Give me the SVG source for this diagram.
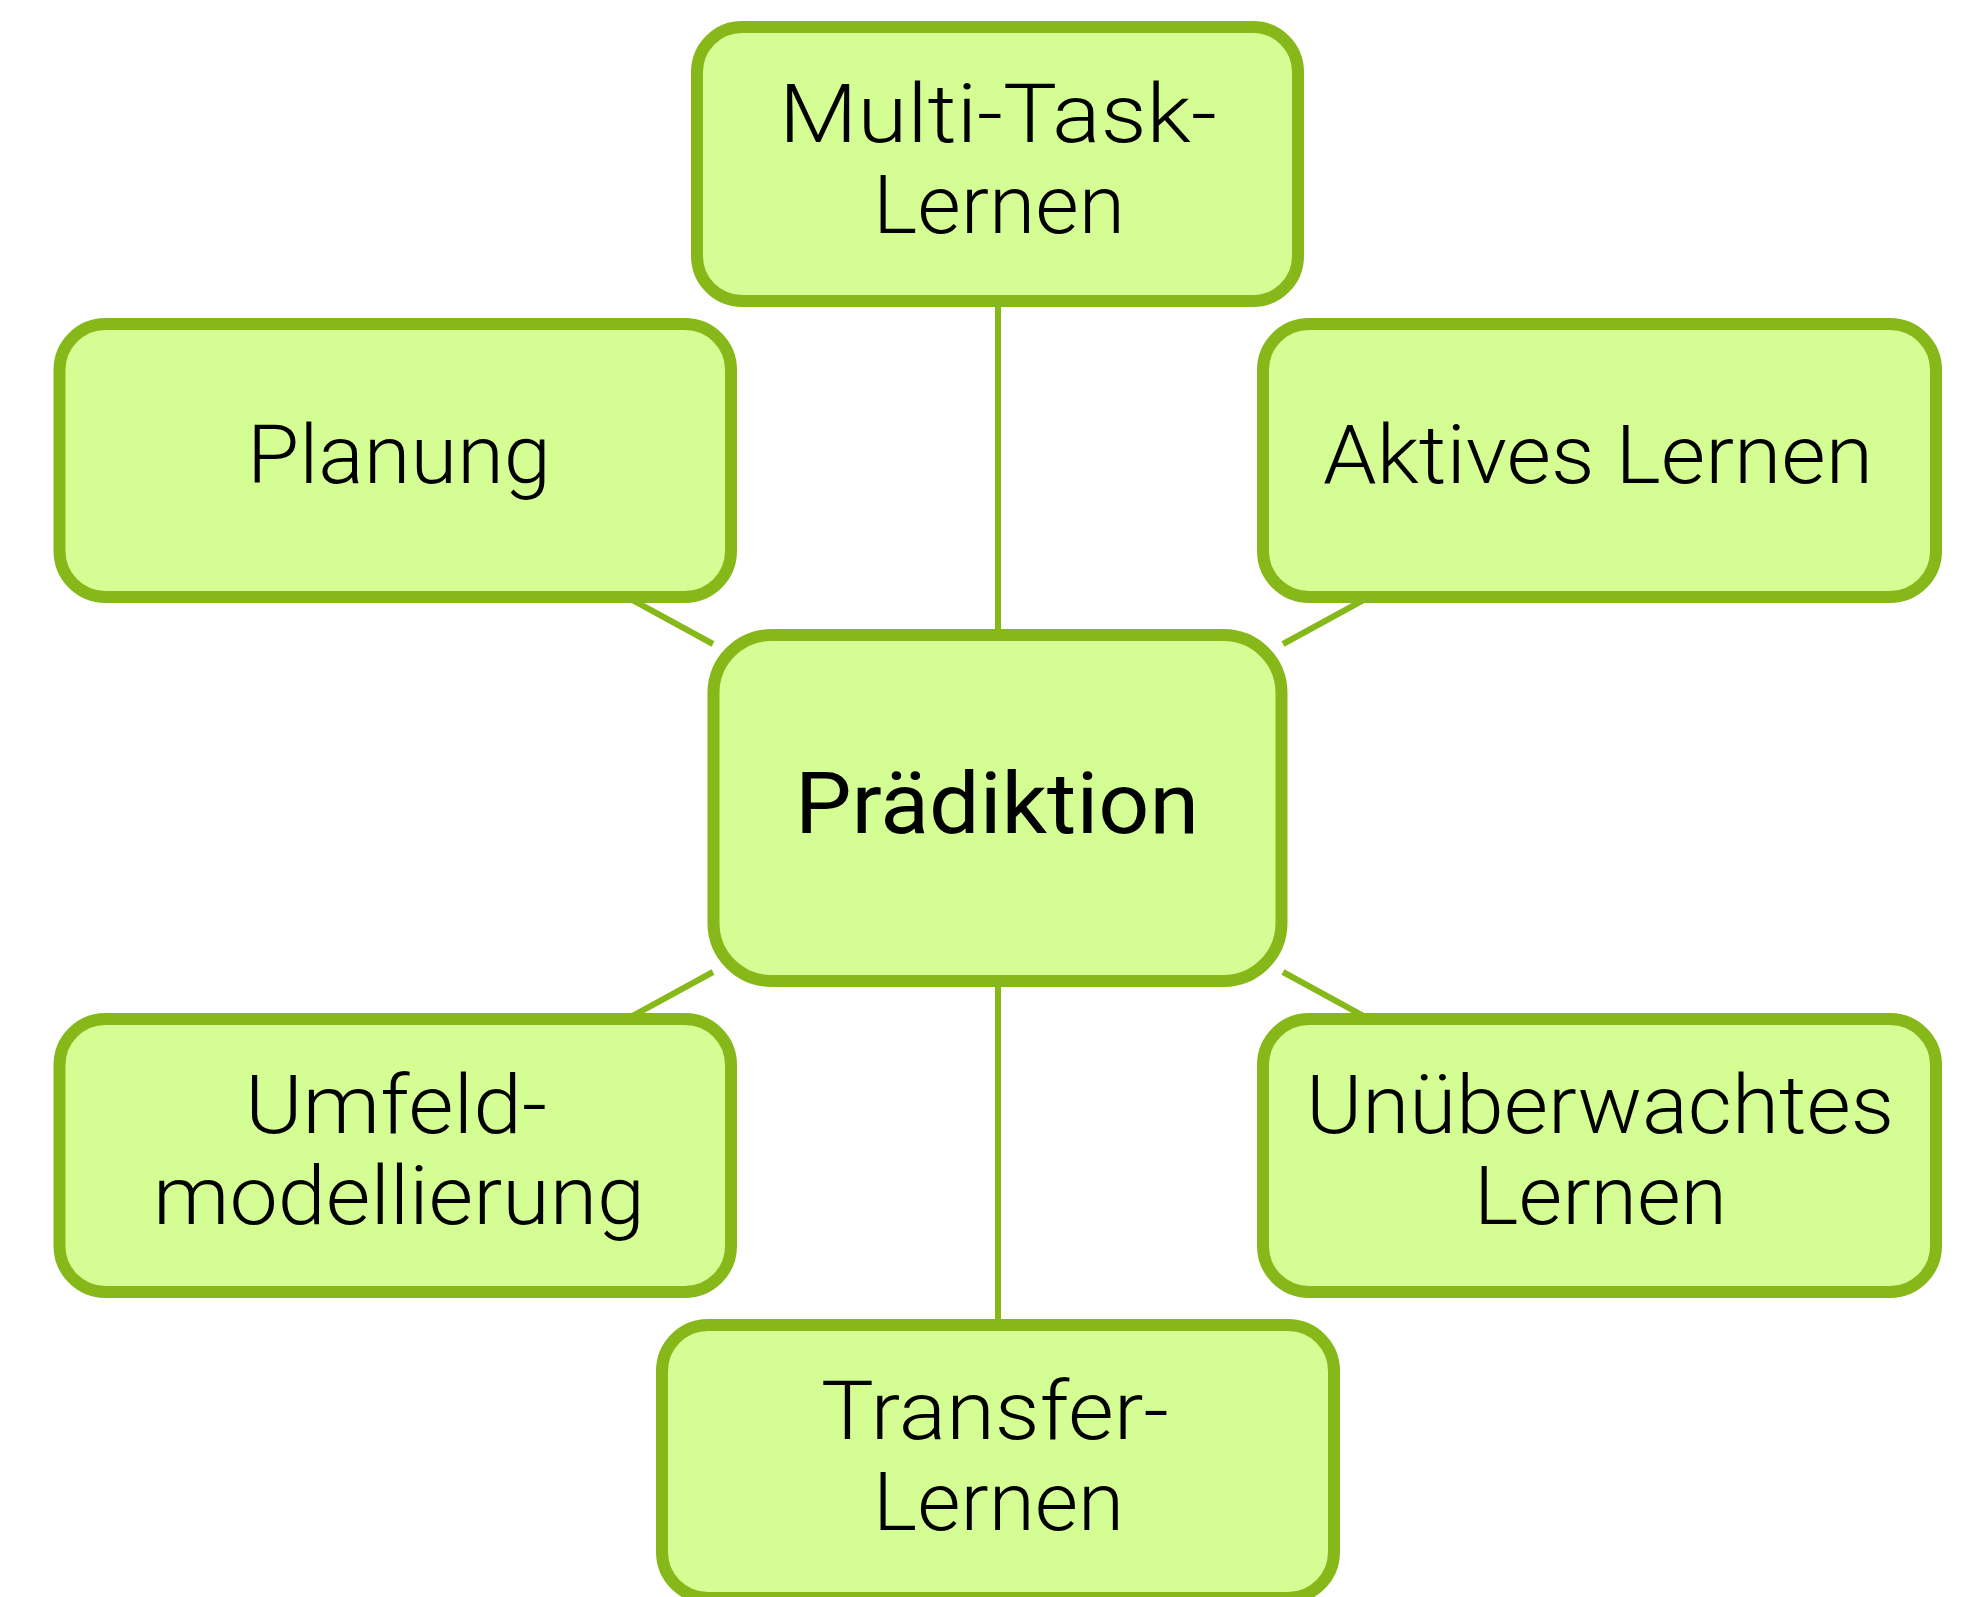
<svg xmlns="http://www.w3.org/2000/svg" width="1972" height="1597" viewBox="0 0 1972 1597">
<style>
.box{fill:#d4fe94;stroke:#86b81a;stroke-width:12}
.conn{stroke:#86b81a;stroke-width:6;fill:none;stroke-linecap:butt}
.lbl{font-family:Roboto,"Liberation Sans",sans-serif;font-weight:300;font-size:82px;fill:#000;text-anchor:middle}
.main{font-family:Roboto,"Liberation Sans",sans-serif;font-weight:400;font-size:86px;fill:#000;text-anchor:middle}
</style>
<rect width="1972" height="1597" fill="#ffffff"/>
<g id="connectors">
<line class="conn" x1="998" y1="290" x2="998" y2="640"/>
<line class="conn" x1="998" y1="975" x2="998" y2="1330"/>
<line class="conn" x1="612" y1="588.8" x2="713" y2="644"/>
<line class="conn" x1="1384" y1="588.8" x2="1283" y2="644"/>
<line class="conn" x1="612" y1="1027.2" x2="713" y2="972"/>
<line class="conn" x1="1384" y1="1027.2" x2="1283" y2="972"/>
</g>
<g id="node-multitask">
<rect class="box" x="697" y="27" width="601" height="274" rx="45"/>
<text class="lbl" x="998" y="142" textLength="438" lengthAdjust="spacingAndGlyphs">Multi-Task-</text>
<text class="lbl" x="999" y="233" textLength="252" lengthAdjust="spacingAndGlyphs">Lernen</text>
</g>
<g id="node-planung">
<rect class="box" x="59.5" y="324" width="671.5" height="273" rx="46"/>
<text class="lbl" x="399" y="483" textLength="304" lengthAdjust="spacingAndGlyphs">Planung</text>
</g>
<g id="node-aktives">
<rect class="box" x="1263" y="324" width="673" height="273" rx="46"/>
<text class="lbl" x="1598" y="483" textLength="550" lengthAdjust="spacingAndGlyphs">Aktives Lernen</text>
</g>
<g id="node-praediktion">
<rect class="box" x="713.5" y="635" width="568" height="346" rx="58"/>
<text class="main" x="997" y="833" textLength="404" lengthAdjust="spacingAndGlyphs">Prädiktion</text>
</g>
<g id="node-umfeld">
<rect class="box" x="59.5" y="1019" width="671.5" height="273" rx="46"/>
<text class="lbl" x="396" y="1133" textLength="302" lengthAdjust="spacingAndGlyphs">Umfeld-</text>
<text class="lbl" x="399" y="1224" textLength="492" lengthAdjust="spacingAndGlyphs">modellierung</text>
</g>
<g id="node-unueberwacht">
<rect class="box" x="1263" y="1019" width="673" height="273" rx="46"/>
<text class="lbl" x="1600" y="1133" textLength="588" lengthAdjust="spacingAndGlyphs">Unüberwachtes</text>
<text class="lbl" x="1600.5" y="1224" textLength="253" lengthAdjust="spacingAndGlyphs">Lernen</text>
</g>
<g id="node-transfer">
<rect class="box" x="662" y="1325" width="672" height="273" rx="46"/>
<text class="lbl" x="995" y="1439" textLength="348" lengthAdjust="spacingAndGlyphs">Transfer-</text>
<text class="lbl" x="998.5" y="1530" textLength="251" lengthAdjust="spacingAndGlyphs">Lernen</text>
</g>
</svg>
